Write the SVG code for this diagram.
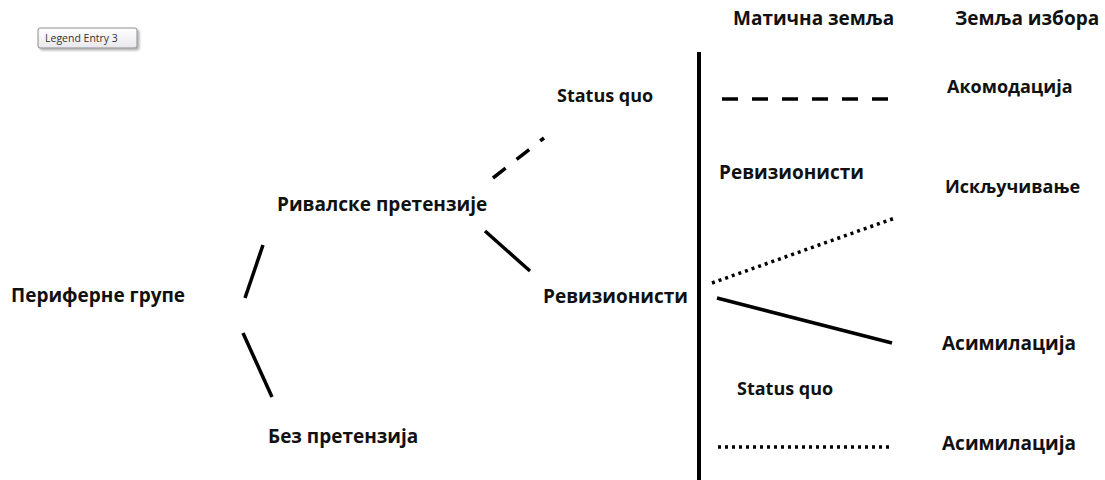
<svg xmlns="http://www.w3.org/2000/svg" width="1105" height="480" viewBox="0 0 1105 480">
<defs>
<linearGradient id="lg" x1="0" y1="0" x2="0" y2="1"><stop offset="0" stop-color="#ffffff"/><stop offset="1" stop-color="#e8e8ec"/></linearGradient>
<filter id="sh" x="-10%" y="-20%" width="130%" height="160%"><feDropShadow dx="2" dy="2" stdDeviation="1.2" flood-color="#000" flood-opacity="0.3"/></filter>
</defs>
<style>
.t{font-family:"Open Sans","Liberation Sans",sans-serif;font-weight:700;font-size:19px;fill:#111}
.m{font-size:18px}
.s{stroke:#000;stroke-width:3.5;fill:none}
.da{stroke-dasharray:16 14}
.dt{stroke-dasharray:3 4}
</style>
<rect width="1105" height="480" fill="#fff"/>
<g id="legend">
<rect x="38" y="28" width="99" height="20" rx="2" fill="url(#lg)" stroke="#8c8c8c" filter="url(#sh)"/>
<text x="45" y="42" style="font-family:'Open Sans','Liberation Sans',sans-serif;font-size:10.5px;fill:#333">Legend Entry 3</text>
</g>
<g id="connectors">
<line class="s" x1="263" y1="245" x2="245" y2="298"/>
<line class="s" x1="243" y1="333" x2="272" y2="397"/>
<line class="s" x1="485" y1="231" x2="530" y2="271"/>
<line class="s da" x1="493" y1="178" x2="544" y2="138"/>
<line stroke="#000" stroke-width="4" x1="699" y1="52" x2="699" y2="480"/>
<line class="s da" x1="722" y1="99" x2="888" y2="99"/>
<line class="s dt" x1="712" y1="283" x2="895" y2="218"/>
<line class="s" x1="717" y1="298" x2="892" y2="343"/>
<line class="s dt" x1="718" y1="447" x2="893" y2="447"/>
</g>
<g id="n-periferne"><text class="t" x="11" y="302">Периферне групе</text></g>
<g id="n-rivalske"><text class="t" x="277" y="211">Ривалске претензије</text></g>
<g id="n-bez"><text class="t" x="268" y="443">Без претензија</text></g>
<g id="n-revizionisti"><text class="t" x="543" y="303">Ревизионисти</text></g>
<g id="n-statusquo1"><text class="t m" x="557" y="102">Status quo</text></g>
<g id="h-maticna"><text class="t" x="733" y="25">Матична земља</text></g>
<g id="h-zemlja"><text class="t" x="955" y="25">Земља избора</text></g>
<g id="n-akomodacija"><text class="t m" x="947" y="93">Акомодација</text></g>
<g id="n-revizionisti2"><text class="t" x="719" y="179">Ревизионисти</text></g>
<g id="n-iskljucivanje"><text class="t m" x="945" y="193">Искључивање</text></g>
<g id="n-asimilacija1"><text class="t" x="942" y="350">Асимилација</text></g>
<g id="n-statusquo2"><text class="t m" x="737" y="395">Status quo</text></g>
<g id="n-asimilacija2"><text class="t" x="942" y="450">Асимилација</text></g>
</svg>
